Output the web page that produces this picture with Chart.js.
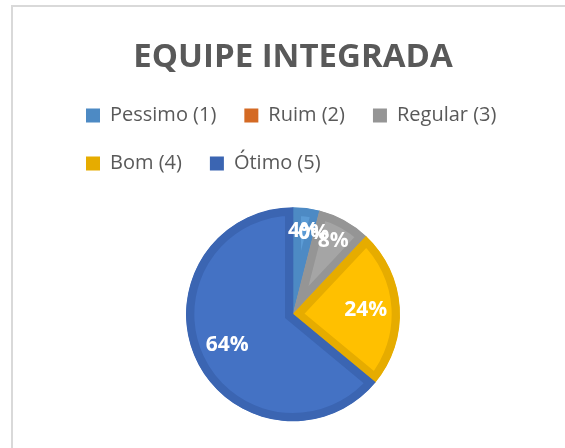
<!DOCTYPE html>
<html>
<head>
<meta charset="utf-8">
<script src="https://cdn.jsdelivr.net/npm/chart.js@4.4.1/dist/chart.umd.min.js"></script>
<style>
  body { margin: 0; background: #fff; overflow: hidden; }
  #frame { position: absolute; left: 11px; top: 5px; width: 600px; height: 500px;
           border-left: 2px solid #d9d9d9; border-top: 2px solid #d9d9d9; }
  #myChart { position: absolute; left: 0; top: 0; }
</style>
</head>
<body>
<div id="frame"></div>
<canvas id="myChart" width="565" height="448"></canvas>
<script>
// answers per rating (25 in total)
var categories = ['Pessimo (1)', 'Ruim (2)', 'Regular (3)', 'Bom (4)', 'Ótimo (5)'];
var answers = [1, 0, 2, 6, 16];
var sliceColors = ['#5B9BD5', '#ED7D31', '#A5A5A5', '#FFC000', '#4472C4'];
var edgeColors = ['#4D8AC4', '#D46A24', '#959595', '#E6AC00', '#3B65B2'];

// percentage labels inside the slices
var pctLabels = {
  id: 'pctLabels',
  afterDatasetsDraw: function(chart) {
    var ctx = chart.ctx;
    var meta = chart.getDatasetMeta(0);
    var total = answers.reduce(function(a, b) { return a + b; }, 0);
    ctx.save();
    ctx.font = 'bold 21px "Open Sans"';
    ctx.fillStyle = '#ffffff';
    ctx.textAlign = 'center';
    ctx.textBaseline = 'middle';
    meta.data.forEach(function(arc, i) {
      var pct = Math.round(answers[i] / total * 100);
      var mid = (arc.startAngle + arc.endAngle) / 2;
      var f = pct < 10 ? 0.78 : 0.68;
      var x = arc.x + Math.cos(mid) * arc.outerRadius * f;
      var y = arc.y + Math.sin(mid) * arc.outerRadius * f;
      ctx.fillText(pct + '%', x, y);
    });
    ctx.restore();
  }
};

new Chart(document.getElementById('myChart'), {
  type: 'pie',
  data: {
    labels: categories,
    datasets: [{
      data: answers,
      backgroundColor: sliceColors,
      borderColor: edgeColors,
      borderWidth: 8,
      borderAlign: 'inner',
      borderJoinStyle: 'miter',
      radius: 107
    }]
  },
  options: {
    responsive: false,
    animation: false,
    layout: { padding: { left: 58, right: 37, top: 0, bottom: 3 } },
    plugins: {
      title: {
        display: true,
        text: 'EQUIPE INTEGRADA',
        color: '#595959',
        font: { family: 'Open Sans', size: 33, weight: 'bold' },
        padding: { top: 38, bottom: 0 }
      },
      legend: {
        position: 'top',
        align: 'start',
        labels: {
          color: '#595959',
          font: { family: 'Open Sans', size: 20 },
          boxWidth: 14,
          boxHeight: 14,
          padding: 28,
          generateLabels: function(chart) {
            var items = Chart.overrides.doughnut.plugins.legend.labels.generateLabels(chart);
            items.forEach(function(it, i) {
              it.lineWidth = 0;
              it.fillStyle = edgeColors[i];
            });
            return items;
          }
        }
      },
      tooltip: { enabled: false }
    }
  },
  plugins: [pctLabels]
});
</script>
</body>
</html>
